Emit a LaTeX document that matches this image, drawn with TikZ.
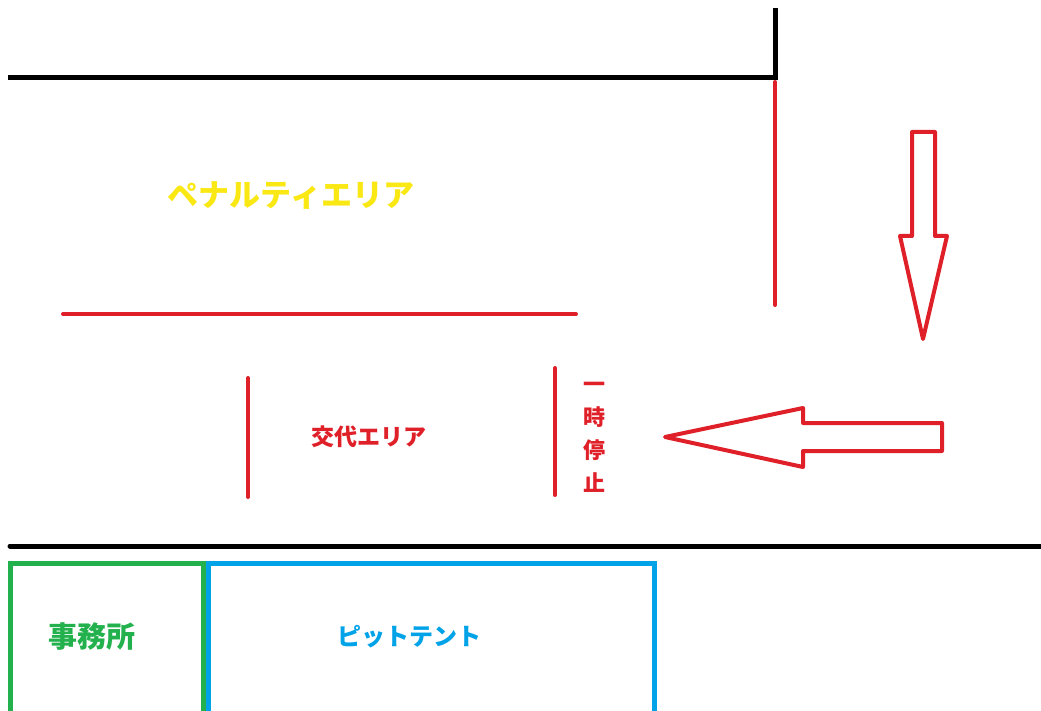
\documentclass[tikz,border=0pt]{standalone}
\usepackage{fontspec}
\newfontfamily\cjk{Noto Sans CJK JP Black}
\definecolor{pred}{RGB}{224,32,40}
\definecolor{pyellow}{RGB}{250,232,20}
\definecolor{pgreen}{RGB}{34,177,76}
\definecolor{pblue}{RGB}{0,162,232}
\tikzset{
  wall/.style={draw=black,line width=5pt},
  redline/.style={draw=pred,line width=4pt,line cap=round},
  arrowshape/.style={draw=pred,line width=4pt,line join=round},
  lbl/.style={inner sep=0pt},
}
\begin{document}
\begin{tikzpicture}[x=1pt,y=-1pt]
\useasboundingbox (0,0) rectangle (1041,711);
\fill[white] (0,0) rectangle (1041,711);
% black walls
\draw[wall] (8,78) -- (776,78);
\draw[wall] (775,8) -- (775,80);
\draw[wall,line cap=round] (10,546) -- (1041,546);
% red lines
\draw[redline] (775,82) -- (775,305);
\draw[redline] (63,314) -- (576,314);
\draw[redline] (248,378) -- (248,497);
\draw[redline] (555,368) -- (555,495);
% arrows
\draw[arrowshape] (912,132) -- (935,132) -- (935,236) -- (947,236) -- (923,339) -- (900,236) -- (912,236) -- cycle;
\draw[arrowshape] (942,423) -- (803,423) -- (803,408) -- (665,437) -- (803,467) -- (803,451) -- (942,451) -- cycle;
% boxes
\draw[draw=pgreen,line width=5pt] (10,714) -- (10,563) -- (203,563) -- (203,714);
\draw[draw=pblue,line width=5pt] (208,714) -- (208,563) -- (654,563) -- (654,714);
% labels
\node[lbl,text=pyellow,font=\cjk\fontsize{31}{31}\selectfont] (penalty) at (291,196) {ペナルティエリア};
\node[lbl,text=pred,font=\cjk\fontsize{23}{23}\selectfont] (koutai) at (369,437) {交代エリア};
\node[lbl,text=pred,font=\cjk\fontsize{22}{33}\selectfont,align=center] (stop) at (594,437) {一\\時\\停\\止};
\node[lbl,text=pgreen,font=\cjk\fontsize{29}{29}\selectfont] (office) at (92,637) {事務所};
\node[lbl,text=pblue,font=\cjk\fontsize{24}{24}\selectfont] (pit) at (409,637) {ピットテント};
\end{tikzpicture}
\end{document}
